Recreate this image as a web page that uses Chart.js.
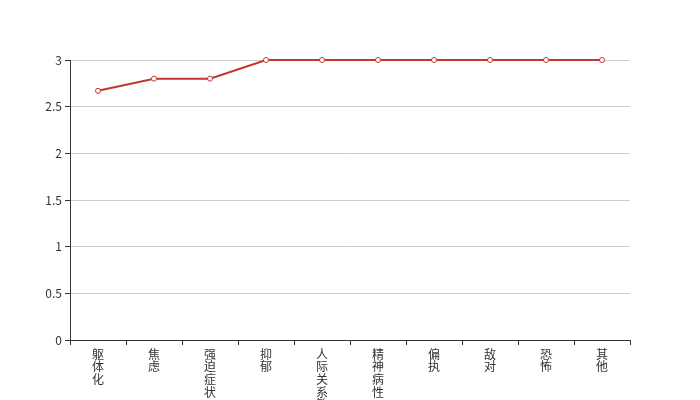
<!DOCTYPE html>
<html>
<head>
<meta charset="utf-8">
<script src="https://cdn.jsdelivr.net/npm/chart.js@4"></script>
<style>
    body { margin: 0; background: #fff; }
</style>
</head>
<body>
<canvas id="myChart" width="700" height="400"></canvas>
<script>
// GRAPH SCL-90

const categories = ['躯体化', '焦虑', '强迫症状', '抑郁', '人际关系敏感', '精神病性', '偏执', '敌对', '恐怖', '其他'];
const scores = [2.67, 2.8, 2.8, 3, 3, 3, 3, 3, 3, 3];
const yTicks = [0, 0.5, 1, 1.5, 2, 2.5, 3];

const red = '#c23531';

const data = {
    // one character per line, like the vertical labels
    labels: categories.map(c => c.split('')),
    datasets: [{
        data: scores,
        borderColor: red,
        borderWidth: 2,
        backgroundColor: '#fff',
        pointRadius: 2.5,
        pointBorderWidth: 1,
        pointBackgroundColor: '#fff',
        pointBorderColor: red,
        tension: 0,
        clip: false,
    }]
};

const config = {
    type: 'line',
    data: data,
    options: {
        responsive: false,
        animation: false,
        layout: { padding: { top: 60, right: 70, left: 0, bottom: 0 } },
        plugins: {
            legend: { display: false },
            tooltip: { enabled: false }
        },
        scales: {
            x: {
                offset: true,
                afterFit: s => { s.height = 60; },
                border: { color: '#333', width: 1 },
                grid: {
                    offset: true,
                    drawOnChartArea: false,
                    drawTicks: true,
                    tickLength: 5,
                    tickColor: '#333'
                },
                ticks: {
                    autoSkip: false,
                    maxRotation: 0,
                    padding: 3,
                    color: '#333',
                    font: { family: "'Noto Sans CJK SC', sans-serif", size: 12, lineHeight: 1.05 }
                }
            },
            y: {
                min: 0,
                max: 3,
                afterFit: s => { s.width = 70; },
                afterBuildTicks: s => { s.ticks = yTicks.map(v => ({ value: v })); },
                border: { color: '#333', width: 1 },
                grid: {
                    color: '#ccc',
                    tickColor: '#333',
                    tickLength: 5
                },
                ticks: {
                    padding: 3,
                    color: '#333',
                    callback: v => String(v),
                    font: { family: "'Noto Sans CJK SC', sans-serif", size: 12 }
                }
            }
        }
    }
};

const myChart = new Chart(
    document.getElementById('myChart'),
    config
);

// FIN GRAPH
</script>
</body>
</html>
